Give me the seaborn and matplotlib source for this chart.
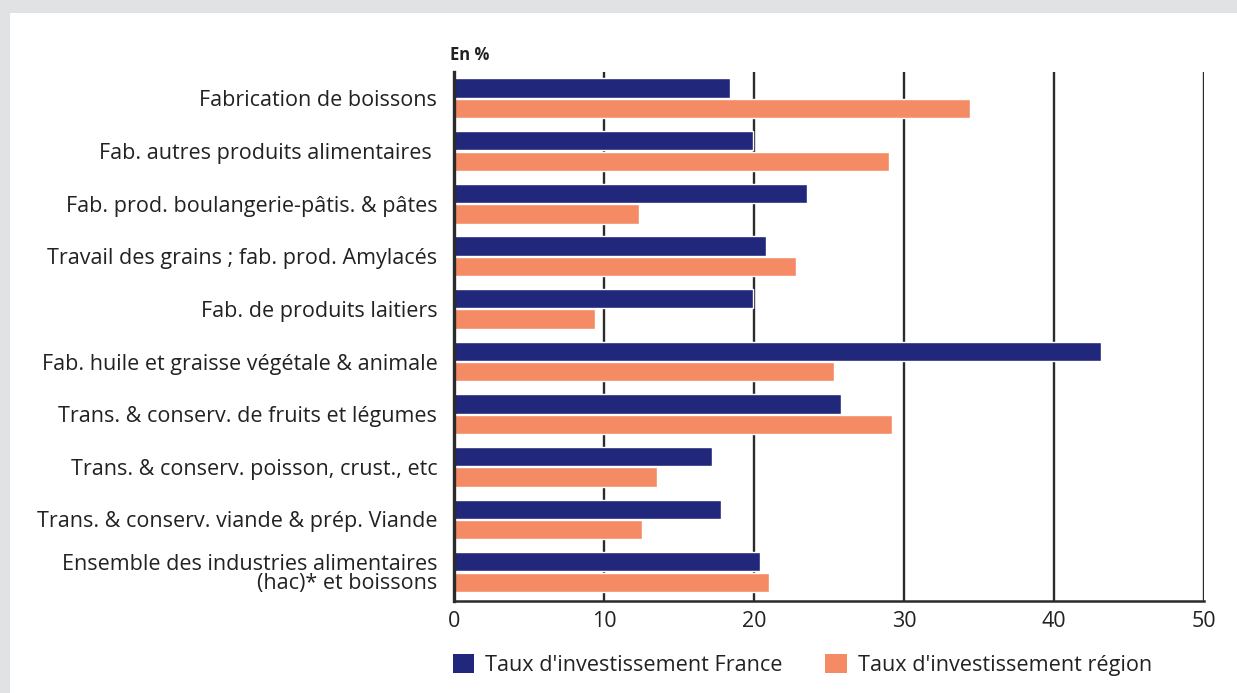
import seaborn as sns
import matplotlib.pyplot as plt
import pandas as pd
from matplotlib.patches import Rectangle, Patch

categories = [
    "Fabrication de boissons",
    "Fab. autres produits alimentaires ",
    "Fab. prod. boulangerie-pâtis. & pâtes",
    "Travail des grains ; fab. prod. Amylacés",
    "Fab. de produits laitiers",
    "Fab. huile et graisse végétale & animale",
    "Trans. & conserv. de fruits et légumes",
    "Trans. & conserv. poisson, crust., etc",
    "Trans. & conserv. viande & prép. Viande",
    "Ensemble des industries alimentaires\n(hac)* et boissons",
]
france = [18.4, 19.9, 23.5, 20.8, 19.9, 43.1, 25.8, 17.2, 17.8, 20.4]
region = [34.4, 29.0, 12.3, 22.8, 9.4, 25.3, 29.2, 13.5, 12.5, 21.0]
series = ["Taux d'investissement France", "Taux d'investissement région"]
colors = ["#21277b", "#f58b65"]

df = pd.DataFrame({
    "cat": categories * 2,
    "val": france + region,
    "serie": [series[0]] * len(categories) + [series[1]] * len(categories),
})

sns.set_style("white")
plt.rcParams["font.family"] = ["Open Sans", "DejaVu Sans"]
text_col = "#222222"
grid_col = "#2b2b2b"

fig = plt.figure(figsize=(12.37, 6.93), dpi=100)
fig.patch.set_facecolor("#e1e2e4")
# white card behind the chart
card = Rectangle((10 / 1237, 0), 1 - 10 / 1237, 1 - 13 / 693,
                 transform=fig.transFigure, facecolor="white",
                 edgecolor="none", zorder=-10)
fig.patches.append(card)

ax = fig.add_axes([454 / 1237, (693 - 601) / 693, 750 / 1237, 529 / 693])
ax.set_zorder(5)
ax.set_facecolor("none")
sns.barplot(data=df, y="cat", x="val", hue="serie", palette=colors,
            orient="h", width=0.78, gap=0.06, ax=ax, legend=False,
            saturation=1, zorder=3)

ax.set_xlim(0, 50)
ax.set_ylim(9.55, -0.5)
ax.set_xticks(range(0, 51, 10))
ax.set_xlabel("")
ax.set_ylabel("")
for x in range(10, 51, 10):
    ax.axvline(x, color=grid_col, lw=1.7, zorder=1)
for s in ["top", "right"]:
    ax.spines[s].set_visible(False)
ax.spines["left"].set_color(grid_col)
ax.spines["left"].set_linewidth(2.4)
ax.spines["left"].set_zorder(4)
ax.spines["bottom"].set_color(grid_col)
ax.spines["bottom"].set_linewidth(1.8)
ax.tick_params(axis="y", length=0, pad=12, labelsize=15.5, labelcolor=text_col)
ax.tick_params(axis="x", length=0, pad=7, labelsize=15.5, labelcolor=text_col)
for lab in ax.get_yticklabels():
    lab.set_horizontalalignment("right")
    lab.set_multialignment("right")
    lab.set_linespacing(0.9)

ax.text(-0.005, 1.015, "En %", transform=ax.transAxes, fontsize=12,
        fontweight="bold", color=text_col, ha="left", va="bottom")

handles = [Patch(facecolor=c, edgecolor="none") for c in colors]
fig.legend(handles, series, loc="center left", bbox_to_anchor=(433 / 1237, (693 - 665) / 693),
           ncol=2, frameon=False, fontsize=15.6, handlelength=1.0, handleheight=1.0,
           handletextpad=0.5, columnspacing=1.97, labelcolor=text_col)

plt.savefig("out.png", dpi=100)
